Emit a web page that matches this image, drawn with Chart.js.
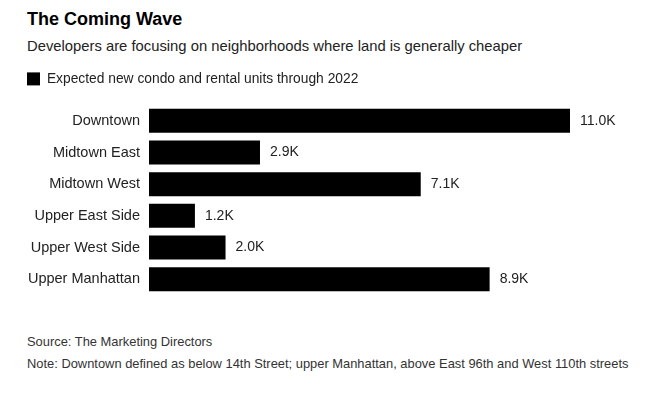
<!DOCTYPE html>
<html>
<head>
<meta charset="utf-8">
<script src="https://cdn.jsdelivr.net/npm/chart.js@4"></script>
<style>
  body { margin: 0; background: #fff; font-family: "Liberation Sans", Arial, sans-serif; color: #000; }
  #wrap { position: relative; width: 664px; height: 394px; }
  .title { position: absolute; left: 27px; top: 9px; font-size: 18px; font-weight: bold; }
  .sub { position: absolute; left: 27px; top: 38px; font-size: 14.8px; color: #222; }
  .foot { position: absolute; left: 27px; font-size: 12.9px; color: #333; }
  #box { position: absolute; left: 0; top: 60px; width: 664px; height: 235px; }
</style>
</head>
<body>
<div id="wrap">
  <div class="title">The Coming Wave</div>
  <div class="sub">Developers are focusing on neighborhoods where land is generally cheaper</div>
  <div id="box"><canvas id="barChart"></canvas></div>
  <div class="foot" style="top:334px">Source: The Marketing Directors</div>
  <div class="foot" style="top:356px">Note: Downtown defined as below 14th Street; upper Manhattan, above East 96th and West 110th streets</div>
</div>
<script>
"use strict";
// thousands of units
var neighborhoods = ['Downtown', 'Midtown East', 'Midtown West', 'Upper East Side', 'Upper West Side', 'Upper Manhattan'];
var units = [11.0, 2.9, 7.1, 1.2, 2.0, 8.9];
var seriesName = 'Expected new condo and rental units through 2022';

/*value labels at bar ends*/
var valueLabels = {
    id: 'valueLabels',
    afterDatasetsDraw: function(chart) {
        var ctx = chart.ctx;
        var meta = chart.getDatasetMeta(0);
        ctx.save();
        ctx.font = '14px "Liberation Sans", Arial, sans-serif';
        ctx.fillStyle = '#222';
        ctx.textBaseline = 'middle';
        meta.data.forEach(function(bar, i) {
            ctx.fillText(units[i].toFixed(1) + 'K', bar.x + 10, bar.y);
        });
        ctx.restore();
    }
};

/*fixed legend height*/
var legendHeight = {
    id: 'legendHeight',
    beforeInit: function(chart) {
        var fit = chart.legend.fit;
        chart.legend.fit = function() {
            fit.bind(chart.legend)();
            this.height = 33;
        };
    }
};

var bar = document.getElementById("barChart").getContext('2d');
var myBarChart = new Chart(bar, {
    type: 'bar',
    data: {
        labels: neighborhoods,
        datasets: [{
            label: seriesName,
            backgroundColor: '#000',
            data: units,
            categoryPercentage: 1,
            barPercentage: 0.76
        }]
    },
    options: {
        indexAxis: 'y',
        responsive: true,
        maintainAspectRatio: false,
        animation: false,
        layout: { padding: { left: 27, right: 94, top: 12, bottom: 0 } },
        plugins: {
            tooltip: { enabled: false },
            legend: {
                position: 'top',
                align: 'start',
                labels: {
                    boxWidth: 13,
                    boxHeight: 13,
                    padding: 0,
                    color: '#222',
                    font: { size: 13.8, family: '"Liberation Sans", Arial, sans-serif' }
                }
            }
        },
        scales: {
            x: { display: false, min: 0, max: 11 },
            y: {
                grid: { display: false, drawTicks: false },
                border: { display: false },
                ticks: {
                    padding: 9,
                    color: '#222',
                    font: { size: 14.5, family: '"Liberation Sans", Arial, sans-serif' }
                },
                afterFit: function(scale) {
                    scale.width = 122;
                    scale.paddingTop = 0;
                    scale.paddingBottom = 0;
                }
            }
        }
    },
    plugins: [valueLabels, legendHeight]
});
</script>
</body>
</html>
